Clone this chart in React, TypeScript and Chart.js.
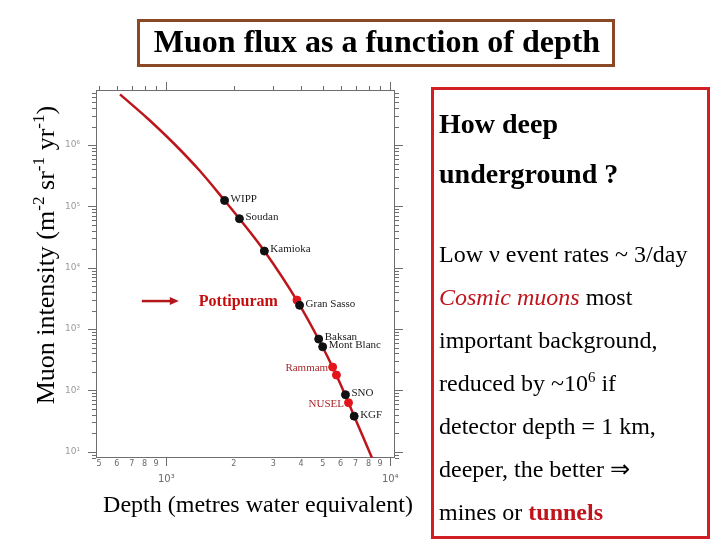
import React, { useEffect, useRef } from 'react';
import { Chart, registerables } from 'chart.js';

Chart.register(...registerables);

// Depth-intensity curve: depth (m.w.e.) and muon intensity (m^-2 sr^-1 yr^-1)
const curveDepth = [621, 818, 1075, 1413, 1820, 2120, 2740, 3880, 4850, 5640, 6400, 6900, 8280];
const curveFlux = [6.7e6, 2.79e6, 1.08e6, 3.77e5, 1.25e5, 6.3e4, 1.87e4, 2700, 620, 205, 73, 38, 8];

// Underground laboratories
const labNames = ['WIPP', 'Soudan', 'Kamioka', 'Gran Sasso', 'Baksan', 'Mont Blanc', 'SNO', 'KGF'];
const labDepth = [1820, 2120, 2740, 3935, 4790, 4990, 6310, 6900];
const labFlux = [1.25e5, 6.3e4, 1.87e4, 2440, 687, 514, 85, 38];

// Indian sites
const indianNames = ['Rammam', '', 'NUSEL'];
const indianDepth = [5530, 5750, 6510];
const indianFlux = [240, 178, 63];

// Proposed site
const proposedName = 'Pottipuram';
const proposedDepth = [3830];
const proposedFlux = [2970];

// Axis ticks
const xTickValues = [500, 600, 700, 800, 900, 1000, 2000, 3000, 4000, 5000, 6000, 7000, 8000, 9000, 10000];
const yDecades = [1, 10, 100, 1000, 10000, 100000, 1000000];
const yMultipliers = [1, 2, 3, 4, 5, 6, 7, 8, 9];
const xMin = 485;
const xMax = 10500;
const yMin = 7.9;
const yMax = 7.9e6;

const yTickValues: number[] = [];
yDecades.forEach((d) =>
  yMultipliers.forEach((m) => {
    const v = d * m;
    if (v >= yMin && v <= yMax) yTickValues.push(v);
  })
);

const SUP = '⁰¹²³⁴⁵⁶⁷⁸⁹';
const isPow10 = (v: number) => {
  const l = Math.log10(v);
  return Math.abs(l - Math.round(l)) < 1e-9;
};
const pow10Label = (v: number) =>
  '10' +
  String(Math.round(Math.log10(v)))
    .split('')
    .map((c) => SUP[+c])
    .join('');

const decorPlugin = {
  id: 'decor',
  beforeDatasetsDraw(chart: any) {
    const { ctx, chartArea: a } = chart;
    const xs = chart.scales.x;
    const ys = chart.scales.y;
    ctx.save();
    ctx.strokeStyle = '#6e6e6e';
    ctx.lineWidth = 1;
    ctx.strokeRect(Math.round(a.left) + 0.5, Math.round(a.top) + 0.5, Math.round(a.right - a.left) - 1, Math.round(a.bottom - a.top) - 1);
    ctx.beginPath();
    xTickValues.forEach((v) => {
      const px = Math.round(xs.getPixelForValue(v)) + 0.5;
      const major = isPow10(v);
      const L = major ? 8 : 4;
      ctx.moveTo(px, a.top);
      ctx.lineTo(px, a.top - L);
      if (major) {
        ctx.moveTo(px, a.bottom);
        ctx.lineTo(px, a.bottom + 8);
      }
    });
    yTickValues.forEach((v) => {
      const py = Math.round(ys.getPixelForValue(v)) + 0.5;
      const L = isPow10(v) ? 8 : 4;
      ctx.moveTo(a.left, py);
      ctx.lineTo(a.left - L, py);
      ctx.moveTo(a.right, py);
      ctx.lineTo(a.right + L, py);
    });
    ctx.stroke();
    ctx.restore();
  },
  afterDatasetsDraw(chart: any) {
    const { ctx } = chart;
    ctx.save();
    ctx.textBaseline = 'middle';
    // laboratory names
    ctx.font = '11px "Liberation Serif", serif';
    ctx.fillStyle = '#1a1a1a';
    ctx.textAlign = 'left';
    chart.getDatasetMeta(0).data.forEach((el: any, i: number) => {
      ctx.fillText(labNames[i], el.x + 6, el.y - 1.5);
    });
    // Indian sites
    ctx.fillStyle = '#a8282c';
    ctx.textAlign = 'right';
    chart.getDatasetMeta(1).data.forEach((el: any, i: number) => {
      if (indianNames[i]) ctx.fillText(indianNames[i], el.x - 4.5, el.y + 1);
    });
    // Proposed site with arrow
    const p = chart.getDatasetMeta(2).data[0];
    if (p) {
      ctx.font = 'bold 16px "Liberation Serif", serif';
      ctx.fillStyle = '#c40e0e';
      ctx.textAlign = 'right';
      const end = p.x - 19;
      ctx.fillText(proposedName, end, p.y + 1.5);
      const w = ctx.measureText(proposedName).width;
      const start = end - w;
      const tip = start - 20;
      const tail = start - 57;
      const ay = p.y + 1;
      ctx.strokeStyle = '#b4161c';
      ctx.fillStyle = '#b4161c';
      ctx.lineWidth = 2.5;
      ctx.beginPath();
      ctx.moveTo(tail, ay);
      ctx.lineTo(tip - 6, ay);
      ctx.stroke();
      ctx.beginPath();
      ctx.moveTo(tip, ay);
      ctx.lineTo(tip - 9, ay - 4);
      ctx.lineTo(tip - 9, ay + 4);
      ctx.closePath();
      ctx.fill();
    }
    ctx.restore();
  },
};

const serif = '"Liberation Serif", "Times New Roman", serif';

function Line(props: { baseline: number; size: number; bold?: boolean; children: any }) {
  const { baseline, size, bold, children } = props;
  return (
    <div
      style={{
        position: 'absolute',
        left: 439,
        top: baseline - 0.8375 * size,
        fontSize: size,
        lineHeight: 1,
        fontWeight: bold ? 'bold' : 'normal',
        whiteSpace: 'nowrap',
      }}
    >
      {children}
    </div>
  );
}

const supStyle: any = { fontSize: '0.62em', position: 'relative', top: '-0.6em', lineHeight: 0 };
const ySupStyle: any = { fontSize: '0.66em', position: 'relative', top: '-0.6em', lineHeight: 0 };

export default function App() {
  const ref = useRef<HTMLCanvasElement>(null);

  useEffect(() => {
    const chart = new Chart(ref.current as HTMLCanvasElement, {
      type: 'scatter',
      data: {
        datasets: [
          {
            label: 'Laboratories',
            data: labDepth.map((d, i) => ({ x: d, y: labFlux[i] })),
            backgroundColor: '#111111',
            borderColor: '#111111',
            pointRadius: 4,
            pointHoverRadius: 4,
            order: 0,
          },
          {
            label: 'Indian sites',
            data: indianDepth.map((d, i) => ({ x: d, y: indianFlux[i] })),
            backgroundColor: '#e3161e',
            borderColor: '#e3161e',
            pointRadius: 4,
            pointHoverRadius: 4,
            order: 1,
          },
          {
            label: proposedName,
            data: proposedDepth.map((d, i) => ({ x: d, y: proposedFlux[i] })),
            backgroundColor: '#e3161e',
            borderColor: '#e3161e',
            pointRadius: 4,
            pointHoverRadius: 4,
            order: 1,
          },
          {
            label: 'Muon intensity',
            data: curveDepth.map((d, i) => ({ x: d, y: curveFlux[i] })),
            showLine: true,
            borderColor: '#bc161c',
            borderWidth: 2.5,
            pointRadius: 0,
            pointHoverRadius: 0,
            cubicInterpolationMode: 'monotone',
            fill: false,
            order: 2,
          } as any,
        ],
      },
      options: {
        responsive: false,
        animation: false,
        devicePixelRatio: 1,
        events: [],
        layout: { padding: { top: 90, right: 325, left: 0, bottom: 0 } },
        plugins: {
          legend: { display: false },
          tooltip: { enabled: false },
          title: { display: false },
        },
        scales: {
          x: {
            type: 'logarithmic',
            min: xMin,
            max: xMax,
            grid: { display: false, drawTicks: false },
            border: { display: false },
            afterBuildTicks: (s: any) => {
              s.ticks = xTickValues.map((v) => ({ value: v }));
            },
            afterFit: (s: any) => {
              s.height = 82;
            },
            ticks: {
              autoSkip: false,
              maxRotation: 0,
              minRotation: 0,
              padding: 1,
              color: '#6a6a6a',
              font: (c: any) => ({
                family: '"DejaVu Sans", sans-serif',
                size: c.tick && isPow10(c.tick.value) ? 10 : 8,
                lineHeight: 1.35,
              }),
              callback: (v: any) => {
                const n = Number(v);
                if (isPow10(n)) return ['', pow10Label(n)];
                return String(Math.round(n / Math.pow(10, Math.floor(Math.log10(n) + 1e-9))));
              },
            },
          },
          y: {
            type: 'logarithmic',
            min: yMin,
            max: yMax,
            grid: { display: false, drawTicks: false },
            border: { display: false },
            afterBuildTicks: (s: any) => {
              s.ticks = yTickValues.map((v) => ({ value: v }));
            },
            afterFit: (s: any) => {
              s.width = 96;
            },
            ticks: {
              autoSkip: false,
              padding: 16,
              color: '#9a9a9a',
              font: { family: '"DejaVu Sans", sans-serif', size: 9 },
              callback: (v: any) => {
                const n = Number(v);
                return isPow10(n) ? pow10Label(n) : '';
              },
            },
          },
        },
      } as any,
      plugins: [decorPlugin],
    });
    return () => chart.destroy();
  }, []);

  return (
    <div
      style={{
        position: 'absolute',
        left: 0,
        top: 0,
        width: 720,
        height: 540,
        background: '#ffffff',
        overflow: 'hidden',
        fontFamily: serif,
        color: '#000',
      }}
    >
      <canvas ref={ref} width={720} height={540} style={{ position: 'absolute', left: 0, top: 0, width: 720, height: 540 }} />

      {/* Title box */}
      <div
        style={{
          position: 'absolute',
          left: 137,
          top: 19,
          width: 478,
          height: 48,
          boxSizing: 'border-box',
          border: '3px solid #8a4824',
        }}
      />
      <div
        style={{
          position: 'absolute',
          left: 137,
          width: 480,
          top: 52 - 0.8375 * 32,
          fontSize: 32,
          fontWeight: 'bold',
          lineHeight: 1,
          textAlign: 'center',
          whiteSpace: 'nowrap',
        }}
      >
        Muon flux as a function of depth
      </div>

      {/* Y axis title */}
      <div
        style={{
          position: 'absolute',
          left: 46 - 170,
          top: 255 - 15,
          width: 340,
          height: 30,
          lineHeight: '30px',
          fontSize: 26,
          textAlign: 'center',
          whiteSpace: 'nowrap',
          transform: 'rotate(-90deg)',
        }}
      >
        Muon intensity (m<span style={ySupStyle}>-2</span> sr<span style={ySupStyle}>-1</span> yr
        <span style={ySupStyle}>-1</span>)
      </div>

      {/* X axis title */}
      <div
        style={{
          position: 'absolute',
          left: 58,
          width: 400,
          top: 512 - 0.8375 * 24,
          fontSize: 24,
          lineHeight: 1,
          textAlign: 'center',
          whiteSpace: 'nowrap',
        }}
      >
        Depth (metres water equivalent)
      </div>

      {/* Right text box */}
      <div
        style={{
          position: 'absolute',
          left: 431,
          top: 87,
          width: 279,
          height: 452,
          boxSizing: 'border-box',
          border: '3px solid #d21f26',
        }}
      />
      <Line baseline={133} size={28} bold>
        How deep
      </Line>
      <Line baseline={183} size={28} bold>
        underground ?
      </Line>
      <Line baseline={262} size={24}>
        Low ν event rates ~ 3/day
      </Line>
      <Line baseline={305} size={24}>
        <span style={{ color: '#c0141c', fontStyle: 'italic' }}>Cosmic muons</span> most
      </Line>
      <Line baseline={348} size={24}>
        important background,
      </Line>
      <Line baseline={391} size={24}>
        reduced by ~10<span style={supStyle}>6</span> if
      </Line>
      <Line baseline={434} size={24}>
        detector depth = 1 km,
      </Line>
      <Line baseline={477} size={24}>
        deeper, the better ⇒
      </Line>
      <Line baseline={520} size={24}>
        mines or <span style={{ color: '#c0141c', fontWeight: 'bold' }}>tunnels</span>
      </Line>
    </div>
  );
}
